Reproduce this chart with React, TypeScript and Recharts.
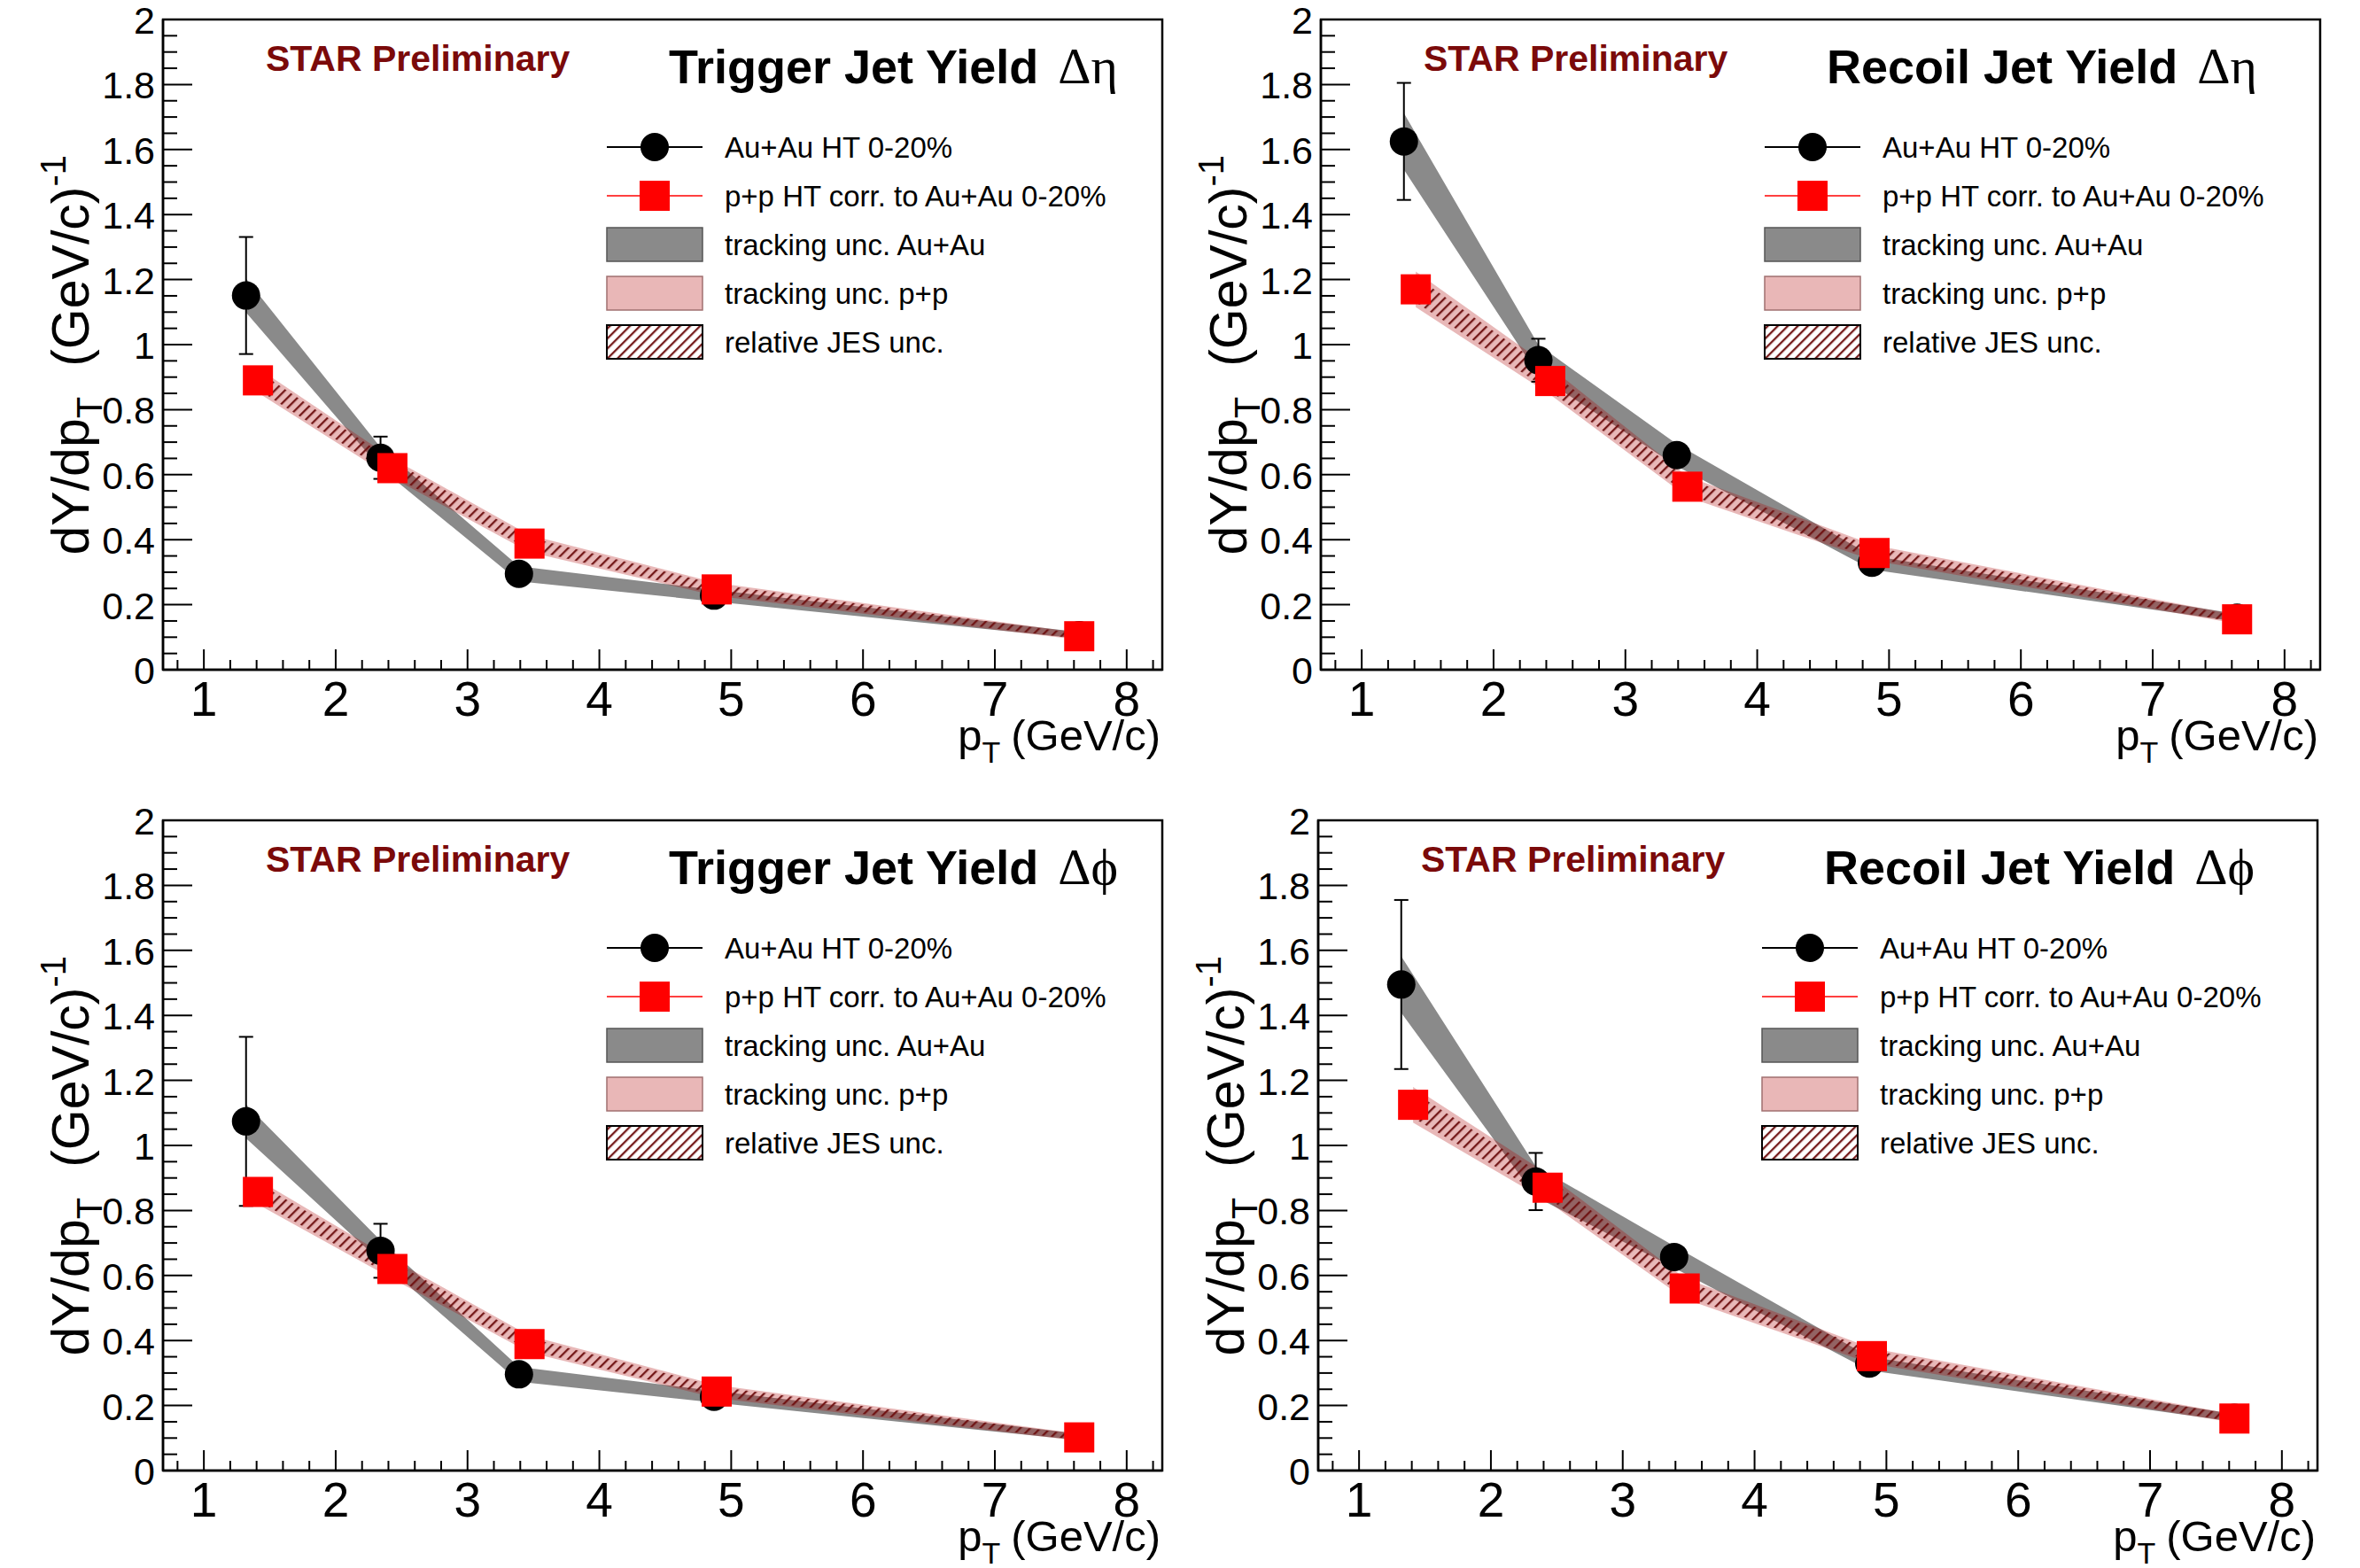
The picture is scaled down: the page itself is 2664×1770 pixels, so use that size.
import React from 'react';
import { ComposedChart, Area, Scatter, ErrorBar, XAxis, YAxis, ReferenceArea } from 'recharts';

// pT bin centres (Au+Au and p+p are drawn slightly shifted)
const auPt = [1.32, 2.34, 3.39, 4.87, 7.64];
const ppPt = [1.41, 2.43, 3.47, 4.89, 7.64];

// Trigger jet yield, delta eta
const trigEtaAu = [1.151, 0.652, 0.295, 0.228, 0.106];
const trigEtaAuErr = [0.18, 0.065, 0.012, 0.01, 0.006];
const trigEtaPp = [0.89, 0.62, 0.388, 0.247, 0.103];

// Recoil jet yield, delta eta
const recoilEtaAu = [1.625, 0.952, 0.66, 0.329, 0.16];
const recoilEtaAuErr = [0.18, 0.066, 0.02, 0.012, 0.008];
const recoilEtaPp = [1.17, 0.888, 0.563, 0.359, 0.155];

// Trigger jet yield, delta phi
const trigPhiAu = [1.074, 0.676, 0.296, 0.227, 0.103];
const trigPhiAuErr = [0.26, 0.083, 0.012, 0.01, 0.006];
const trigPhiPp = [0.857, 0.62, 0.389, 0.243, 0.102];

// Recoil jet yield, delta phi
const recoilPhiAu = [1.495, 0.889, 0.657, 0.329, 0.162];
const recoilPhiAuErr = [0.26, 0.088, 0.02, 0.012, 0.008];
const recoilPhiPp = [1.125, 0.87, 0.56, 0.352, 0.16];

// systematic band half-widths
const auTrackTrig = [0.052, 0.032, 0.023, 0.018, 0.01];
const auTrackRecoil = [0.087, 0.047, 0.034, 0.021, 0.012];
const ppTrackTrig = [0.038, 0.03, 0.026, 0.02, 0.011];
const ppTrackRecoil = [0.055, 0.042, 0.032, 0.024, 0.013];
const ppJesTrig = [0.028, 0.023, 0.019, 0.015, 0.008];
const ppJesRecoil = [0.04, 0.031, 0.024, 0.018, 0.01];

const xDomain = [0.69, 8.27];
const xMajorTicks = [1, 2, 3, 4, 5, 6, 7, 8];
const xMinorTicks = [0.8, 1.2, 1.4, 1.6, 1.8, 2.2, 2.4, 2.6, 2.8, 3.2, 3.4, 3.6, 3.8, 4.2, 4.4, 4.6, 4.8,
  5.2, 5.4, 5.6, 5.8, 6.2, 6.4, 6.6, 6.8, 7.2, 7.4, 7.6, 7.8, 8.2];
const yMajorTicks = [0, 0.2, 0.4, 0.6, 0.8, 1, 1.2, 1.4, 1.6, 1.8, 2];
const yMinorTicks = [0.05, 0.1, 0.15, 0.25, 0.3, 0.35, 0.45, 0.5, 0.55, 0.65, 0.7, 0.75, 0.85, 0.9, 0.95,
  1.05, 1.1, 1.15, 1.25, 1.3, 1.35, 1.45, 1.5, 1.55, 1.65, 1.7, 1.75, 1.85, 1.9, 1.95];

const legendLabels = [
  'Au+Au HT 0-20%',
  'p+p HT corr. to Au+Au 0-20%',
  'tracking unc. Au+Au',
  'tracking unc. p+p',
  'relative JES unc.',
];

const FONT = '"Liberation Sans", Arial, Helvetica, sans-serif';
const PAD = 20; // extra room above the frame so the top tick label is not clipped

const XTick = (props: any) => {
  const { x, y, payload } = props;
  const major = xMajorTicks.includes(payload.value);
  return (
    <g>
      <line x1={x} x2={x} y1={y} y2={y - (major ? 23 : 11)} stroke="#000" strokeWidth={2} />
      {major && (
        <text x={x} y={y + 52} textAnchor="middle" fontSize={55} fontFamily={FONT} fill="#000">
          {payload.value}
        </text>
      )}
    </g>
  );
};

const YTick = (props: any) => {
  const { x, y, payload } = props;
  const major = yMajorTicks.includes(payload.value);
  return (
    <g>
      <line x1={x} x2={x + (major ? 33 : 16)} y1={y} y2={y} stroke="#000" strokeWidth={2} />
      {major && (
        <text x={x - 9} y={y + 1} textAnchor="end" dominantBaseline="central" fontSize={43} fontFamily={FONT} fill="#000">
          {payload.value}
        </text>
      )}
    </g>
  );
};

interface PanelProps {
  left: number;
  top: number;
  title: string;
  symbol: string;
  au: number[];
  auErr: number[];
  auTrack: number[];
  pp: number[];
  ppTrack: number[];
  ppJes: number[];
}

function Panel({ left, top, title, symbol, au, auErr, auTrack, pp, ppTrack, ppJes }: PanelProps) {
  const auData = auPt.map((x, i) => ({ x, y: au[i], err: auErr[i] }));
  const ppData = ppPt.map((x, i) => ({ x, y: pp[i] }));
  const auBand = auPt.map((x, i) => ({ x, band: [au[i] - auTrack[i], au[i] + auTrack[i]] }));
  const ppBand = ppPt.map((x, i) => ({ x, band: [pp[i] - ppTrack[i], pp[i] + ppTrack[i]] }));
  const jesBand = ppPt.map((x, i) => ({ x, band: [pp[i] - ppJes[i], pp[i] + ppJes[i]] }));
  const xTicks = [...xMajorTicks, ...xMinorTicks].sort((a, b) => a - b);
  const yTicks = [...yMajorTicks, ...yMinorTicks].sort((a, b) => a - b);
  const rowY = [166, 221, 276, 331, 386].map((v) => v + PAD);

  return (
    <div style={{ position: 'absolute', left, top: top - PAD, width: 1332, height: 885 + PAD }}>
      <ComposedChart width={1332} height={885 + PAD} margin={{ top: 22 + PAD, right: 20, bottom: 69, left: 84 }}>
        <XAxis
          type="number"
          dataKey="x"
          domain={xDomain}
          allowDataOverflow
          ticks={xTicks}
          interval={0}
          tickSize={0}
          tickMargin={0}
          tick={XTick}
          height={60}
          axisLine={{ stroke: '#000', strokeWidth: 2.5 }}
        />
        <YAxis
          type="number"
          dataKey="y"
          domain={[0, 2]}
          allowDataOverflow
          ticks={yTicks}
          interval={0}
          tickSize={0}
          tickMargin={0}
          tick={YTick}
          width={100}
          axisLine={{ stroke: '#000', strokeWidth: 2.5 }}
        />
        <Area data={auBand} dataKey="band" type="linear" fill="#8a8a8a" fillOpacity={1} stroke="none" dot={false} activeDot={false} isAnimationActive={false} />
        <Scatter
          data={auData}
          dataKey="y"
          isAnimationActive={false}
          shape={(p: any) => <circle cx={p.cx} cy={p.cy} r={16} fill="#000" />}
        >
          <ErrorBar dataKey="err" direction="y" width={8} stroke="#000" strokeWidth={2} />
        </Scatter>
        <Scatter
          data={ppData}
          dataKey="y"
          isAnimationActive={false}
          shape={(p: any) => <rect x={p.cx - 17} y={p.cy - 17} width={34} height={34} fill="#ff0000" />}
        />
        <Area data={ppBand} dataKey="band" type="linear" fill="#ad0000" fillOpacity={0.28} stroke="none" dot={false} activeDot={false} isAnimationActive={false} />
        <Area data={jesBand} dataKey="band" type="linear" fill="url(#jesHatch)" fillOpacity={1} stroke="none" dot={false} activeDot={false} isAnimationActive={false} />
        <ReferenceArea x1={xDomain[0]} x2={xDomain[1]} y1={0} y2={2} fill="none" stroke="#000" strokeWidth={2.5} ifOverflow="visible" />
      </ComposedChart>

      <svg width={1332} height={885 + PAD} style={{ position: 'absolute', left: 0, top: 0, pointerEvents: 'none' }} fontFamily={FONT}>
        <text x={300} y={80 + PAD} fontSize={41} fontWeight="bold" fill="#7b0a0a">STAR Preliminary</text>
        <text x={755} y={94 + PAD} fontSize={54} fontWeight="bold" fill="#000">
          {title}
          <tspan fontWeight="normal" fontFamily='"Liberation Serif", "DejaVu Serif", serif' fontSize={58} dx={22}>{'Δ' + symbol}</tspan>
        </text>

        {/* legend */}
        <line x1={685} x2={793} y1={rowY[0]} y2={rowY[0]} stroke="#000" strokeWidth={2} />
        <circle cx={739} cy={rowY[0]} r={16} fill="#000" />
        <line x1={685} x2={793} y1={rowY[1]} y2={rowY[1]} stroke="#ff0000" strokeWidth={1.5} />
        <rect x={722} y={rowY[1] - 17} width={34} height={34} fill="#ff0000" />
        <rect x={685} y={rowY[2] - 19} width={108} height={38} fill="#8a8a8a" stroke="#555" strokeWidth={1.5} />
        <rect x={685} y={rowY[3] - 19} width={108} height={38} fill="#e9b7b7" stroke="#a07070" strokeWidth={1.5} />
        <rect x={685} y={rowY[4] - 19} width={108} height={38} fill="#fff" stroke="none" />
        <rect x={685} y={rowY[4] - 19} width={108} height={38} fill="url(#jesHatch)" stroke="#000" strokeWidth={2} />
        {legendLabels.map((t, i) => (
          <text key={t} x={818} y={rowY[i]} dominantBaseline="central" fontSize={33} fill="#000">{t}</text>
        ))}

        {/* axis titles */}
        <text x={1310} y={847 + PAD} textAnchor="end" fontSize={49} fill="#000">
          p<tspan fontSize={34} dy={14}>T</tspan>
          <tspan dy={-14} dx={12}>(GeV/c)</tspan>
        </text>
        <text transform={`translate(100,${175 + PAD}) rotate(-90)`} textAnchor="end" fontSize={59} fill="#000">
          dY/dp<tspan fontSize={40} dy={15}>T</tspan>
          <tspan dy={-15} dx={34}>(GeV/c)</tspan>
          <tspan fontSize={40} dy={-26}>-1</tspan>
        </text>
      </svg>
    </div>
  );
}

export default function App() {
  return (
    <div style={{ position: 'absolute', left: 0, top: 0, width: 2664, height: 1770, background: '#fff' }}>
      <svg width={0} height={0} style={{ position: 'absolute' }}>
        <defs>
          <pattern id="jesHatch" patternUnits="userSpaceOnUse" width={8} height={8} patternTransform="rotate(45)">
            <line x1={1.2} y1={0} x2={1.2} y2={8} stroke="#6e1010" strokeWidth={2.2} />
          </pattern>
        </defs>
      </svg>
      <Panel left={0} top={0} title="Trigger Jet Yield" symbol="η" au={trigEtaAu} auErr={trigEtaAuErr} auTrack={auTrackTrig} pp={trigEtaPp} ppTrack={ppTrackTrig} ppJes={ppJesTrig} />
      <Panel left={1307} top={0} title="Recoil Jet Yield" symbol="η" au={recoilEtaAu} auErr={recoilEtaAuErr} auTrack={auTrackRecoil} pp={recoilEtaPp} ppTrack={ppTrackRecoil} ppJes={ppJesRecoil} />
      <Panel left={0} top={904} title="Trigger Jet Yield" symbol="ϕ" au={trigPhiAu} auErr={trigPhiAuErr} auTrack={auTrackTrig} pp={trigPhiPp} ppTrack={ppTrackTrig} ppJes={ppJesTrig} />
      <Panel left={1304} top={904} title="Recoil Jet Yield" symbol="ϕ" au={recoilPhiAu} auErr={recoilPhiAuErr} auTrack={auTrackRecoil} pp={recoilPhiPp} ppTrack={ppTrackRecoil} ppJes={ppJesRecoil} />
    </div>
  );
}
